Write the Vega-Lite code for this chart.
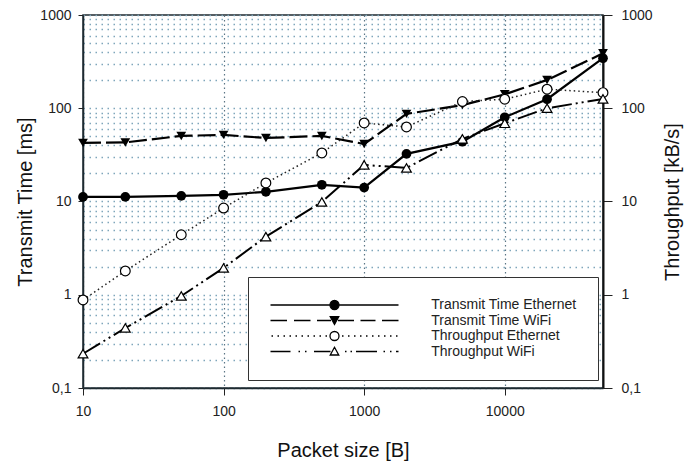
{
  "$schema": "https://vega.github.io/schema/vega-lite/v6.json",
  "width": 520,
  "height": 373,
  "autosize": {"type": "none"},
  "padding": {"left": 83, "top": 15, "right": 90, "bottom": 80},
  "background": "white",
  "config": {
    "font": "Liberation Sans",
    "view": {"stroke": "#1e2a30", "strokeWidth": 1.5},
    "legend": {
      "orient": "none",
      "legendX": 165,
      "legendY": 262,
      "padding": 21,
      "strokeColor": "#333",
      "fillColor": "white",
      "symbolSize": 100,
      "symbolStrokeWidth": 1.3,
      "symbolOpacity": 1,
      "symbolOffset": 58.5,
      "labelOffset": 89.7,
      "labelFont": "Liberation Sans",
      "labelFontSize": 14,
      "labelColor": "#222",
      "labelLimit": 400,
      "rowPadding": 0.5
    }
  },
  "data": {
    "values": [
      {"size": 10, "series": "Transmit Time Ethernet", "value": 11.2},
      {"size": 20, "series": "Transmit Time Ethernet", "value": 11.2},
      {"size": 50, "series": "Transmit Time Ethernet", "value": 11.5},
      {"size": 100, "series": "Transmit Time Ethernet", "value": 11.8},
      {"size": 200, "series": "Transmit Time Ethernet", "value": 12.7},
      {"size": 500, "series": "Transmit Time Ethernet", "value": 15.1},
      {"size": 1000, "series": "Transmit Time Ethernet", "value": 14.1},
      {"size": 2000, "series": "Transmit Time Ethernet", "value": 32.4},
      {"size": 5000, "series": "Transmit Time Ethernet", "value": 43.8},
      {"size": 10000, "series": "Transmit Time Ethernet", "value": 80},
      {"size": 20000, "series": "Transmit Time Ethernet", "value": 125},
      {"size": 50000, "series": "Transmit Time Ethernet", "value": 344},
      {"size": 10, "series": "Transmit Time WiFi", "value": 42.5},
      {"size": 20, "series": "Transmit Time WiFi", "value": 43},
      {"size": 50, "series": "Transmit Time WiFi", "value": 50.5},
      {"size": 100, "series": "Transmit Time WiFi", "value": 51.8},
      {"size": 200, "series": "Transmit Time WiFi", "value": 48},
      {"size": 500, "series": "Transmit Time WiFi", "value": 50.5},
      {"size": 1000, "series": "Transmit Time WiFi", "value": 41.4},
      {"size": 2000, "series": "Transmit Time WiFi", "value": 87},
      {"size": 5000, "series": "Transmit Time WiFi", "value": 108},
      {"size": 10000, "series": "Transmit Time WiFi", "value": 141},
      {"size": 20000, "series": "Transmit Time WiFi", "value": 201},
      {"size": 50000, "series": "Transmit Time WiFi", "value": 388},
      {"size": 10, "series": "Throughput Ethernet", "value": 0.88},
      {"size": 20, "series": "Throughput Ethernet", "value": 1.8},
      {"size": 50, "series": "Throughput Ethernet", "value": 4.4},
      {"size": 100, "series": "Throughput Ethernet", "value": 8.5},
      {"size": 200, "series": "Throughput Ethernet", "value": 15.8},
      {"size": 500, "series": "Throughput Ethernet", "value": 33.2},
      {"size": 1000, "series": "Throughput Ethernet", "value": 69.5},
      {"size": 2000, "series": "Throughput Ethernet", "value": 63},
      {"size": 5000, "series": "Throughput Ethernet", "value": 118},
      {"size": 10000, "series": "Throughput Ethernet", "value": 125},
      {"size": 20000, "series": "Throughput Ethernet", "value": 160},
      {"size": 50000, "series": "Throughput Ethernet", "value": 147},
      {"size": 10, "series": "Throughput WiFi", "value": 0.233},
      {"size": 20, "series": "Throughput WiFi", "value": 0.44},
      {"size": 50, "series": "Throughput WiFi", "value": 0.97},
      {"size": 100, "series": "Throughput WiFi", "value": 1.94},
      {"size": 200, "series": "Throughput WiFi", "value": 4.2},
      {"size": 500, "series": "Throughput WiFi", "value": 9.9},
      {"size": 1000, "series": "Throughput WiFi", "value": 24.7},
      {"size": 2000, "series": "Throughput WiFi", "value": 22.9},
      {"size": 5000, "series": "Throughput WiFi", "value": 47},
      {"size": 10000, "series": "Throughput WiFi", "value": 69},
      {"size": 20000, "series": "Throughput WiFi", "value": 100},
      {"size": 50000, "series": "Throughput WiFi", "value": 126}
    ]
  },
  "encoding": {
    "x": {
      "field": "size",
      "type": "quantitative",
      "scale": {"type": "log", "domain": [10, 50000], "nice": false},
      "axis": {
        "title": "Packet size [B]",
        "values": [10, 100, 1000, 10000],
        "labelExpr": "datum.value == 10 ? '10' : datum.value == 100 ? '100' : datum.value == 1000 ? '1000' : '10000'",
        "grid": true,
        "gridColor": "#5c7685",
        "gridDash": [1.5, 3],
        "gridWidth": 1.2,
        "domainColor": "#1e2a30",
        "domainWidth": 1.5,
        "tickColor": "#222",
        "tickSize": 7,
        "labelPadding": 9,
        "labelFontSize": 14,
        "labelColor": "#222",
        "labelOverlap": false,
        "labelFlush": false,
        "titleFontSize": 20,
        "titleFontWeight": "normal",
        "titleColor": "#111",
        "titlePadding": 22
      }
    }
  },
  "layer": [
    {
      "transform": [{"filter": "datum.series == 'Transmit Time Ethernet'"}],
      "mark": {"type": "line", "color": "black", "strokeWidth": 2.2},
      "encoding": {
        "y": {
          "field": "value",
          "type": "quantitative",
          "scale": {"type": "log", "domain": [0.1, 1000], "nice": false},
          "axis": {
            "orient": "left",
            "title": "Transmit Time [ms]",
            "values": [0.1, 0.2, 0.3, 0.4, 0.5, 0.6, 0.7, 0.8, 0.9, 1, 2, 3, 4, 5, 6, 7, 8, 9, 10, 20, 30, 40, 50, 60, 70, 80, 90, 100, 200, 300, 400, 500, 600, 700, 800, 900, 1000],
            "labelExpr": "datum.value == 0.1 ? '0,1' : datum.value == 1 ? '1' : datum.value == 10 ? '10' : datum.value == 100 ? '100' : datum.value == 1000 ? '1000' : ''",
            "tickOpacity": {"condition": {"test": "datum.value == 0.1 || datum.value == 1 || datum.value == 10 || datum.value == 100 || datum.value == 1000", "value": 1}, "value": 0},
            "grid": true,
            "gridColor": "#7fa6bb",
            "gridDash": [1.5, 4.5],
            "gridWidth": 1.3,
            "domainColor": "#1e2a30",
            "domainWidth": 1.5,
            "tickColor": "#222",
            "tickSize": 5,
            "labelPadding": 7,
            "labelFontSize": 14,
            "labelColor": "#222",
            "labelOverlap": false,
            "labelFlush": false,
            "titleFontSize": 20,
            "titleFontWeight": "normal",
            "titleColor": "#111",
            "titlePadding": 4
          }
        }
      }
    },
    {
      "transform": [{"filter": "datum.series == 'Transmit Time WiFi'"}],
      "mark": {"type": "line", "color": "black", "strokeWidth": 2.2, "strokeDash": [18, 5]},
      "encoding": {
        "y": {
          "field": "value",
          "type": "quantitative",
          "scale": {"type": "log", "domain": [0.1, 1000], "nice": false},
          "axis": {
            "orient": "right",
            "title": "Throughput [kB/s]",
            "values": [0.1, 1, 10, 100, 1000],
            "labelExpr": "datum.value == 0.1 ? '0,1' : datum.value == 1 ? '1' : datum.value == 10 ? '10' : datum.value == 100 ? '100' : '1000'",
            "grid": false,
            "domainColor": "#111",
            "domainWidth": 2,
            "tickColor": "#222",
            "tickSize": 9,
            "labelPadding": 9,
            "labelFontSize": 14,
            "labelColor": "#222",
            "labelOverlap": false,
            "labelFlush": false,
            "titleFontSize": 20,
            "titleFontWeight": "normal",
            "titleColor": "#111",
            "titleAngle": 270,
            "titleBaseline": "top",
            "titlePadding": 10
          }
        }
      }
    },
    {
      "transform": [{"filter": "datum.series == 'Throughput Ethernet'"}],
      "mark": {"type": "line", "color": "#222", "strokeWidth": 1.5, "strokeDash": [1.5, 3]},
      "encoding": {
        "y": {"field": "value", "type": "quantitative", "scale": {"type": "log", "domain": [0.1, 1000], "nice": false}, "axis": null}
      }
    },
    {
      "transform": [{"filter": "datum.series == 'Throughput WiFi'"}],
      "mark": {"type": "line", "color": "black", "strokeWidth": 2, "strokeDash": [20, 4, 2, 4, 2, 4]},
      "encoding": {
        "y": {"field": "value", "type": "quantitative", "scale": {"type": "log", "domain": [0.1, 1000], "nice": false}, "axis": null}
      }
    },
    {
      "transform": [{"filter": "datum.series == 'Transmit Time Ethernet'"}],
      "mark": {"type": "point", "shape": "circle", "filled": true, "color": "black", "size": 95, "opacity": 1},
      "encoding": {
        "y": {"field": "value", "type": "quantitative", "scale": {"type": "log", "domain": [0.1, 1000], "nice": false}, "axis": null}
      }
    },
    {
      "transform": [{"filter": "datum.series == 'Transmit Time WiFi'"}],
      "mark": {"type": "point", "shape": "triangle-down", "filled": true, "color": "black", "size": 95, "opacity": 1},
      "encoding": {
        "y": {"field": "value", "type": "quantitative", "scale": {"type": "log", "domain": [0.1, 1000], "nice": false}, "axis": null}
      }
    },
    {
      "transform": [{"filter": "datum.series == 'Throughput Ethernet'"}],
      "mark": {"type": "point", "shape": "circle", "filled": true, "fill": "white", "stroke": "black", "strokeWidth": 1.2, "size": 95, "opacity": 1},
      "encoding": {
        "y": {"field": "value", "type": "quantitative", "scale": {"type": "log", "domain": [0.1, 1000], "nice": false}, "axis": null}
      }
    },
    {
      "transform": [{"filter": "datum.series == 'Throughput WiFi'"}],
      "mark": {"type": "point", "shape": "triangle-up", "filled": true, "fill": "white", "stroke": "black", "strokeWidth": 1.2, "size": 95, "opacity": 1},
      "encoding": {
        "y": {"field": "value", "type": "quantitative", "scale": {"type": "log", "domain": [0.1, 1000], "nice": false}, "axis": null}
      }
    },
    {
      "transform": [{"filter": "datum.value < 0"}],
      "mark": {"type": "point", "filled": true, "color": "black", "stroke": "black", "strokeWidth": 1.3, "opacity": 1},
      "encoding": {
        "y": {"field": "value", "type": "quantitative", "scale": {"type": "log", "domain": [0.1, 1000], "nice": false}, "axis": null},
        "shape": {
          "field": "series",
          "type": "nominal",
          "scale": {
            "domain": ["Transmit Time Ethernet", "Transmit Time WiFi", "Throughput Ethernet", "Throughput WiFi"],
            "range": [
              "M-12.8,0H-0.9M0.9,0H12.8M0.9,0C0.9,0.497 0.497,0.9 0,0.9C-0.497,0.9 -0.9,0.497 -0.9,0C-0.9,-0.497 -0.497,-0.9 0,-0.9C0.497,-0.9 0.9,-0.497 0.9,0Z",
              "M-12.8,0H-9.5M-8.1,0H-4.8M-3.5,0H-0.7M0.7,0H3.9M5.2,0H8.2M9.5,0H12.8M-0.85,-0.75L0.85,-0.75L0,0.8Z",
              "M-12.6,0h0.3M-11.4,0h0.3M-10.2,0h0.3M-9,0h0.3M-7.8,0h0.3M-6.6,0h0.3M-5.4,0h0.3M-4.2,0h0.3M-3,0h0.3M-1.8,0h0.3M1.5,0h0.3M2.7,0h0.3M3.9,0h0.3M5.1,0h0.3M6.3,0h0.3M7.5,0h0.3M8.7,0h0.3M9.9,0h0.3M11.1,0h0.3M12.3,0h0.3M0.9,0C0.9,0.497 0.497,0.9 0,0.9C-0.497,0.9 -0.9,0.497 -0.9,0C-0.9,-0.497 -0.497,-0.9 0,-0.9C0.497,-0.9 0.9,-0.497 0.9,0Z",
              "M-12.8,0H-8.8M-7.2,0h0.3M-5.9,0h0.3M-4.1,0H-0.8M2.1,0h0.3M3.2,0h0.3M4.3,0H8.5M9.8,0h0.3M11.1,0h0.3M12.3,0H12.8M-0.85,0.7L0.85,0.7L0,-0.85Z"
            ]
          },
          "legend": {"title": null}
        },
        "fill": {
          "field": "series",
          "type": "nominal",
          "scale": {
            "domain": ["Transmit Time Ethernet", "Transmit Time WiFi", "Throughput Ethernet", "Throughput WiFi"],
            "range": ["black", "black", "white", "white"]
          },
          "legend": {"title": null}
        },
        "stroke": {
          "field": "series",
          "type": "nominal",
          "scale": {
            "domain": ["Transmit Time Ethernet", "Transmit Time WiFi", "Throughput Ethernet", "Throughput WiFi"],
            "range": ["black", "black", "black", "black"]
          },
          "legend": {"title": null}
        }
      }
    }
  ],
  "resolve": {"axis": {"y": "independent"}}
}
